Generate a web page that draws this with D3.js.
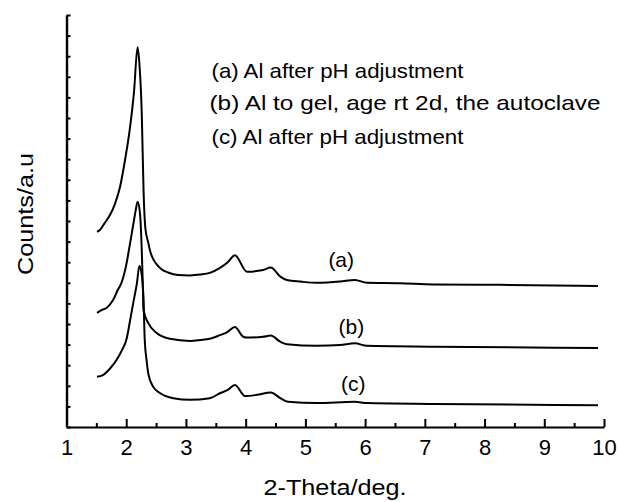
<!DOCTYPE html>
<html>
<head>
<meta charset="utf-8">
<script src="https://cdn.jsdelivr.net/npm/d3@7"></script>
<style>
  html, body { margin: 0; padding: 0; background: #fff; }
  svg { display: block; }
  text { font-family: "Liberation Sans", Arial, Helvetica, sans-serif; fill: #000; }
</style>
</head>
<body>
<svg id="chart" width="620" height="502"></svg>
<script>
// ---- data ----
const seriesNames = ["(a)", "(b)", "(c)"];
const legendLines = [
  "(a) Al after pH adjustment",
  "(b) Al to gel, age rt 2d, the autoclave",
  "(c) Al after pH adjustment"
];
const xTickValues = [1, 2, 3, 4, 5, 6, 7, 8, 9, 10];
const xTickLabels = ["1", "2", "3", "4", "5", "6", "7", "8", "9", "10"];
const xLabel = "2-Theta/deg.";
const yLabel = "Counts/a.u";

const aX = [1.51,1.56,1.63,1.73,1.81,1.90,1.98,2.06,2.13,2.19,2.22,2.26,2.29,2.32,2.37,2.40,2.45,2.52,2.60,2.70,2.87,3.07,3.24,3.40,3.57,3.70,3.82,4.02,4.29,4.42,4.58,4.69,4.92,5.19,5.58,5.83,6.03,6.58,7.14,8.26,9.90];
const aY = [47.4,47.8,49.3,51.5,54.1,58.5,64.8,72.3,81.3,92.2,88.3,76.2,57.5,48.3,44.7,42.7,40.8,39.3,38.2,37.5,36.9,36.8,37.0,37.4,38.6,40.0,41.7,37.7,38.1,38.7,36.5,35.7,35.3,35.0,35.3,35.7,35.0,34.9,34.6,34.5,34.2];

const bX = [1.51,1.59,1.67,1.78,1.86,1.92,2.00,2.06,2.12,2.16,2.19,2.23,2.26,2.28,2.29,2.37,2.51,2.73,3.07,3.24,3.40,3.57,3.70,3.82,3.96,4.02,4.29,4.42,4.58,4.69,5.19,5.58,5.83,6.03,7.14,9.90];
const bY = [27.7,28.4,28.9,30.8,33.3,35.0,39.3,44.2,49.3,52.7,54.7,51.9,43.0,33.3,28.4,25.2,22.8,21.4,20.9,21.1,21.4,22.3,23.1,24.3,21.9,21.7,21.9,22.2,20.7,20.1,19.7,19.9,20.3,19.7,19.5,19.2];

const cX = [1.51,1.61,1.73,1.84,1.92,2.01,2.06,2.12,2.18,2.22,2.26,2.29,2.31,2.34,2.37,2.45,2.57,2.79,3.07,3.40,3.57,3.70,3.82,3.99,4.19,4.42,4.58,4.71,5.19,5.83,6.03,7.14,9.90];
const cY = [12.2,12.6,14.2,16.3,18.4,21.6,25.5,30.3,35.0,39.1,36.9,30.8,21.1,16.3,12.9,9.8,8.2,7.0,6.6,7.0,8.2,9.0,10.2,7.5,7.8,8.4,7.0,6.1,5.8,6.1,5.8,5.6,5.3];

// label anchor points (in data units) for the curve labels
const curveLabelX = [5.6, 5.77, 5.8];
const curveLabelY = [38.8, 22.6, 8.7];

// ---- drawing ----
const svg = d3.select("#chart");
const mLeft = 66.5, mRight = 604, mTop = 15, mBottom = 427;

const x = d3.scaleLinear().domain([1, 10]).range([mLeft, mRight]);
const y = d3.scaleLinear().domain([0, 100]).range([mBottom, mTop]);

// minor x ticks
svg.append("g")
  .attr("transform", `translate(0,${mBottom})`)
  .call(d3.axisBottom(x).tickValues(d3.range(1.5, 10, 1)).tickSizeInner(-4).tickSizeOuter(0).tickFormat(""))
  .call(g => g.select(".domain").remove())
  .call(g => g.selectAll("line").attr("stroke", "#000").attr("stroke-width", 2));

// major x axis
const xAxis = svg.append("g")
  .attr("transform", `translate(0,${mBottom})`)
  .call(d3.axisBottom(x).tickValues(xTickValues).tickSizeInner(-8).tickSizeOuter(0).tickPadding(12)
    .tickFormat((d, i) => xTickLabels[i]));
xAxis.select(".domain").attr("stroke", "#000").attr("stroke-width", 2.2);
xAxis.selectAll("line").attr("stroke", "#000").attr("stroke-width", 2);
xAxis.selectAll("text").attr("font-size", 22).attr("fill", "#000")
  .style("font-family", '"Liberation Sans", Arial, sans-serif');

// y axis (no labels, inward ticks)
const yAxis = svg.append("g")
  .attr("transform", `translate(${mLeft},0)`)
  .call(d3.axisLeft(y).tickValues(d3.range(0, 101, 5)).tickSizeInner(-4).tickSizeOuter(0).tickFormat(""));
yAxis.select(".domain").attr("stroke", "#000").attr("stroke-width", 2.4);
yAxis.selectAll("line").attr("stroke", "#000").attr("stroke-width", 2);

// curves
const series = [
  { name: seriesNames[0], xs: aX, ys: aY },
  { name: seriesNames[1], xs: bX, ys: bY },
  { name: seriesNames[2], xs: cX, ys: cY }
];
const line = d3.line()
  .x(d => x(d[0]))
  .y(d => y(d[1]))
  .curve(d3.curveMonotoneX);

svg.append("g").selectAll("path")
  .data(series)
  .join("path")
  .attr("d", s => line(s.xs.map((v, i) => [v, s.ys[i]])))
  .attr("fill", "none")
  .attr("stroke", "#000")
  .attr("stroke-width", 2)
  .attr("stroke-linejoin", "round");

// curve labels
svg.append("g").selectAll("text")
  .data(seriesNames)
  .join("text")
  .attr("x", (d, i) => x(curveLabelX[i]))
  .attr("y", (d, i) => y(curveLabelY[i]))
  .attr("text-anchor", "middle")
  .attr("font-size", 21)
  .text(d => d);

// legend text
const legendPos = [[211.5, 77.5], [209.5, 109.5], [211.5, 144]];
const legendLen = [252, 391, 252];
svg.append("g").selectAll("text")
  .data(legendLines)
  .join("text")
  .attr("x", (d, i) => legendPos[i][0])
  .attr("y", (d, i) => legendPos[i][1])
  .attr("font-size", 21)
  .attr("textLength", (d, i) => legendLen[i])
  .attr("lengthAdjust", "spacingAndGlyphs")
  .text(d => d);

// axis titles
svg.append("text")
  .attr("x", 335).attr("y", 495)
  .attr("text-anchor", "middle")
  .attr("font-size", 22)
  .attr("textLength", 143)
  .attr("lengthAdjust", "spacingAndGlyphs")
  .text(xLabel);

svg.append("text")
  .attr("transform", "translate(33,214) rotate(-90)")
  .attr("text-anchor", "middle")
  .attr("font-size", 22)
  .attr("textLength", 122)
  .attr("lengthAdjust", "spacingAndGlyphs")
  .text(yLabel);
</script>
</body>
</html>
